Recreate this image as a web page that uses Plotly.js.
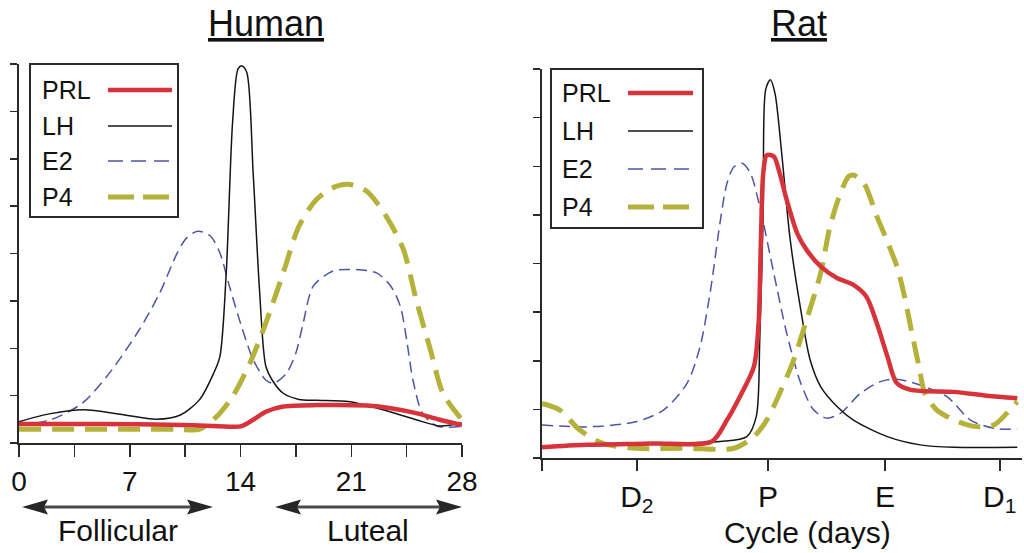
<!DOCTYPE html>
<html>
<head>
<meta charset="utf-8">
<script src="https://cdn.plot.ly/plotly-3.0.1.min.js"></script>
<style>
  html, body { margin: 0; padding: 0; background: #fff; }
  #chart { width: 1024px; height: 553px; }
</style>
</head>
<body>
<div id="chart"></div>
<script>
// ---- Human menstrual cycle (x = day of cycle, y = relative level) ----
const humanPrlDays = [0, 5, 10.4, 13, 14, 14.8, 15.6, 16.7, 18.8, 21.96, 23.6, 25.1, 26.6, 28];
const humanPrl     = [0.40, 0.40, 0.38, 0.35, 0.35, 0.49, 0.66, 0.77, 0.80, 0.79, 0.73, 0.63, 0.49, 0.38];

const humanLhDays = [0, 2, 4.1, 6.5, 8.7, 10.2, 11.4, 12.3, 12.7, 13.1, 13.5, 13.85, 14.1, 14.4, 14.8, 15.2, 15.6, 16.0, 16.7, 17.7, 18.8, 20.9, 23.0, 25.1, 26.6, 28];
const humanLh     = [0.45, 0.62, 0.70, 0.60, 0.50, 0.59, 0.91, 1.47, 1.83, 3.6, 6.77, 7.9, 7.96, 7.82, 5.7, 3.24, 1.62, 1.33, 1.05, 0.92, 0.90, 0.87, 0.70, 0.49, 0.36, 0.42];

const humanE2Days = [0, 2, 4, 5.7, 7.6, 8.9, 10, 10.6, 11.3, 12.1, 12.7, 13.3, 14, 14.8, 15.6, 16.1, 16.9, 17.5, 17.96, 18.6, 19.85, 21.3, 22.6, 23.5, 24.1, 24.5, 24.9, 25.5, 26.4, 28];
const humanE2     = [0.38, 0.49, 0.84, 1.47, 2.39, 3.17, 4.01, 4.33, 4.47, 4.37, 4.01, 3.31, 2.53, 1.76, 1.33, 1.26, 1.47, 1.90, 2.53, 3.31, 3.63, 3.66, 3.59, 3.31, 2.89, 2.18, 1.33, 0.63, 0.36, 0.35];

const humanP4Days = [0, 5, 10, 11.4, 12.5, 13.5, 14.6, 15.6, 16.7, 17.7, 18.8, 19.85, 20.8, 21.96, 23.2, 24.3, 25.1, 26, 26.8, 28];
const humanP4     = [0.29, 0.29, 0.29, 0.29, 0.56, 0.98, 1.69, 2.53, 3.59, 4.58, 5.14, 5.39, 5.46, 5.32, 4.79, 4.08, 3.03, 1.97, 1.05, 0.49];

const humanTickVals  = [0, 7, 14, 21, 28];
const humanTickText  = ['0', '7', '14', '21', '28'];
const humanMinorTick = 3.5;   // half-week tick spacing

// ---- Rat estrous cycle (x = position within cycle) ----
const ratPrlPos = [0, 0.38, 0.95, 1.45, 1.58, 1.69, 1.81, 1.85, 1.87, 1.89, 1.92, 1.98, 2.03, 2.09, 2.18, 2.26, 2.38, 2.52, 2.66, 2.77, 2.86, 2.95, 3.03, 3.15, 3.52, 3.80, 4.06];
const ratPrl    = [0.22, 0.27, 0.30, 0.34, 0.78, 1.26, 1.88, 2.77, 4.49, 5.86, 6.23, 6.20, 5.86, 5.31, 4.62, 4.28, 3.94, 3.70, 3.56, 3.32, 2.77, 2.09, 1.54, 1.40, 1.36, 1.28, 1.23];

const ratLhPos = [0, 0.5, 1.0, 1.52, 1.75, 1.83, 1.86, 1.89, 1.91, 1.95, 1.99, 2.05, 2.12, 2.21, 2.29, 2.38, 2.52, 2.66, 2.95, 3.23, 3.52, 4.06];
const ratLh    = [0.23, 0.26, 0.30, 0.34, 0.44, 0.85, 2.43, 5.17, 7.57, 7.78, 7.50, 6.2, 4.49, 3.05, 2.02, 1.47, 1.06, 0.78, 0.44, 0.27, 0.22, 0.22];

const ratE2Pos = [0, 0.38, 0.81, 1.04, 1.24, 1.35, 1.44, 1.52, 1.58, 1.64, 1.71, 1.78, 1.86, 1.98, 2.09, 2.21, 2.32, 2.43, 2.55, 2.72, 2.89, 3.03, 3.23, 3.46, 3.66, 3.86, 4.06];
const ratE2    = [0.68, 0.64, 0.75, 0.99, 1.54, 2.29, 3.46, 4.83, 5.65, 5.99, 6.06, 5.86, 5.17, 3.80, 2.57, 1.54, 0.99, 0.82, 0.92, 1.33, 1.57, 1.62, 1.50, 1.26, 0.78, 0.61, 0.59];

const ratP4Pos = [0, 0.15, 0.32, 0.52, 0.81, 1.24, 1.64, 1.81, 1.92, 2.03, 2.15, 2.26, 2.38, 2.46, 2.55, 2.62, 2.66, 2.75, 2.86, 2.95, 3.03, 3.09, 3.16, 3.22, 3.27, 3.37, 3.52, 3.69, 3.86, 3.97, 4.06];
const ratP4    = [1.12, 0.99, 0.58, 0.30, 0.20, 0.20, 0.20, 0.44, 0.78, 1.33, 2.02, 2.84, 3.80, 4.76, 5.45, 5.79, 5.82, 5.65, 4.97, 4.45, 3.95, 3.39, 2.57, 1.88, 1.33, 0.99, 0.78, 0.65, 0.68, 0.92, 1.16];

const ratTickVals  = [0.81, 1.93, 2.93, 3.91];
const ratTickText  = ['D<sub>2</sub>', 'P', 'E', 'D<sub>1</sub>'];
const ratStartTick = [0];

const seriesNames = ['PRL', 'LH', 'E2', 'P4'];

// ---- styling ----
const FONT = 'Liberation Sans, Arial, Helvetica, sans-serif';
const INK = '#2a2a2a';
const styles = {
  PRL: { color: '#d7333a', width: 4.5, dash: 'solid', legendDash: 'solid' },
  LH:  { color: '#151515', width: 1.5, dash: 'solid', legendDash: 'solid' },
  E2:  { color: '#4d55a5', width: 1.5, dash: '11px,6px', legendDash: '15px,8px' },
  P4:  { color: '#b5b23b', width: 5,   dash: '22px,11px', legendDash: '26px,9px' }
};

// pixel -> paper helpers (figure is 1024 x 553 with zero margins)
const W = 1024, H = 553;
const px = v => v / W;
const py = v => 1 - v / H;

function line(x, y, name, xa, ya) {
  const s = styles[name];
  return {
    type: 'scatter', mode: 'lines', x: x, y: y, name: name,
    xaxis: xa, yaxis: ya, showlegend: false, hoverinfo: 'skip',
    line: { color: s.color, width: s.width, dash: s.dash, shape: 'spline', smoothing: 0.8 }
  };
}

// draw order: E2, LH, P4, PRL on top
const traces = [
  line(humanE2Days, humanE2, 'E2', 'x', 'y'),
  line(humanLhDays, humanLh, 'LH', 'x', 'y'),
  line(humanP4Days, humanP4, 'P4', 'x', 'y'),
  line(humanPrlDays, humanPrl, 'PRL', 'x', 'y'),
  line(ratE2Pos, ratE2, 'E2', 'x2', 'y2'),
  line(ratLhPos, ratLh, 'LH', 'x2', 'y2'),
  line(ratP4Pos, ratP4, 'P4', 'x2', 'y2'),
  line(ratPrlPos, ratPrl, 'PRL', 'x2', 'y2')
];

const shapes = [];
const annotations = [];

// boxed legend: label on the left, line sample on the right
function addLegend(box, textX, sampleX0, sampleX1, rows) {
  shapes.push({
    type: 'rect', xref: 'paper', yref: 'paper',
    x0: px(box[0]), x1: px(box[1]), y0: py(box[2]), y1: py(box[3]),
    line: { color: INK, width: 2 }, fillcolor: 'rgba(255,255,255,1)'
  });
  seriesNames.forEach((n, i) => {
    const s = styles[n];
    annotations.push({
      xref: 'paper', yref: 'paper', x: px(textX), y: py(rows[i]),
      xanchor: 'left', yanchor: 'middle', showarrow: false, text: n,
      font: { family: FONT, size: 25, color: '#111' }
    });
    shapes.push({
      type: 'line', xref: 'paper', yref: 'paper',
      x0: px(sampleX0), x1: px(sampleX1), y0: py(rows[i]), y1: py(rows[i]),
      line: { color: s.color, width: s.width, dash: s.legendDash }
    });
  });
}
addLegend([30, 178, 64, 217], 40, 108, 172, [90, 126, 161, 197]);
addLegend([551, 703, 69, 228], 560, 628, 693, [93, 131, 169, 207]);

// double-headed phase arrows under the human axis
function doubleArrow(x0, x1, y) {
  const L = 26, h = 7.5, n = 4;
  shapes.push({
    type: 'line', xref: 'paper', yref: 'paper',
    x0: px(x0 + L - n), x1: px(x1 - L + n), y0: py(y), y1: py(y),
    line: { color: '#4a4a4a', width: 3 }
  });
  const head = (tip, dir) =>
    `M ${px(tip)},${py(y)} L ${px(tip + dir * L)},${py(y - h)} L ${px(tip + dir * (L - n))},${py(y)} L ${px(tip + dir * L)},${py(y + h)} Z`;
  [head(x0, 1), head(x1, -1)].forEach(p => shapes.push({
    type: 'path', xref: 'paper', yref: 'paper', path: p,
    fillcolor: '#262626', line: { width: 0 }
  }));
}
doubleArrow(22, 213, 507);
doubleArrow(275, 462, 507);

function label(text, x, y, size, extra) {
  annotations.push(Object.assign({
    xref: 'paper', yref: 'paper', x: px(x), y: py(y),
    xanchor: 'center', yanchor: 'middle', showarrow: false, text: text,
    font: { family: FONT, size: size, color: '#111' }
  }, extra || {}));
}
label('Follicular', 118, 530, 30);
label('Luteal', 368, 530, 30);
label('Cycle (days)', 807, 532, 30);
label('Human', 266, 24, 36, { font: { family: FONT, size: 36, color: '#111', lineposition: 'under' } });
label('Rat', 799, 24, 36, { font: { family: FONT, size: 36, color: '#111', lineposition: 'under' } });

const axisCommon = {
  showgrid: false, zeroline: false, showline: true,
  linecolor: INK, linewidth: 2, ticks: 'outside',
  tickcolor: INK, tickwidth: 1.5, fixedrange: true
};

const layout = {
  width: W, height: H,
  margin: { l: 0, r: 0, t: 0, b: 0, pad: 0 },
  paper_bgcolor: '#fff', plot_bgcolor: 'rgba(0,0,0,0)',
  showlegend: false,
  xaxis: Object.assign({}, axisCommon, {
    domain: [px(19), px(462)], range: [0, 28], anchor: 'y',
    tickmode: 'array', tickvals: humanTickVals, ticktext: humanTickText,
    ticklen: 12, tickfont: { family: FONT, size: 28, color: '#111' },
    minor: { ticks: 'outside', ticklen: 12, tickwidth: 1.5, tickcolor: INK,
             tick0: 0, dtick: humanMinorTick, showgrid: false }
  }),
  yaxis: Object.assign({}, axisCommon, {
    domain: [py(443), py(64)], range: [0, 8], anchor: 'x',
    tickmode: 'linear', tick0: 0, dtick: 1, ticklen: 7, showticklabels: false
  }),
  xaxis2: Object.assign({}, axisCommon, {
    domain: [px(542), px(1022)], range: [0, 4.1], anchor: 'y2',
    tickmode: 'array', tickvals: ratTickVals, ticktext: ratTickText,
    ticklen: 11, tickfont: { family: FONT, size: 30, color: '#111' },
    minor: { ticks: 'outside', ticklen: 11, tickwidth: 1.5, tickcolor: INK,
             tickmode: 'array', tickvals: ratStartTick, showgrid: false }
  }),
  yaxis2: Object.assign({}, axisCommon, {
    domain: [py(458), py(69)], range: [0, 8], anchor: 'x2',
    tickmode: 'linear', tick0: 0, dtick: 1, ticklen: 7, showticklabels: false
  }),
  shapes: shapes,
  annotations: annotations
};

Plotly.newPlot('chart', traces, layout, { staticPlot: true, displayModeBar: false });
</script>
</body>
</html>
